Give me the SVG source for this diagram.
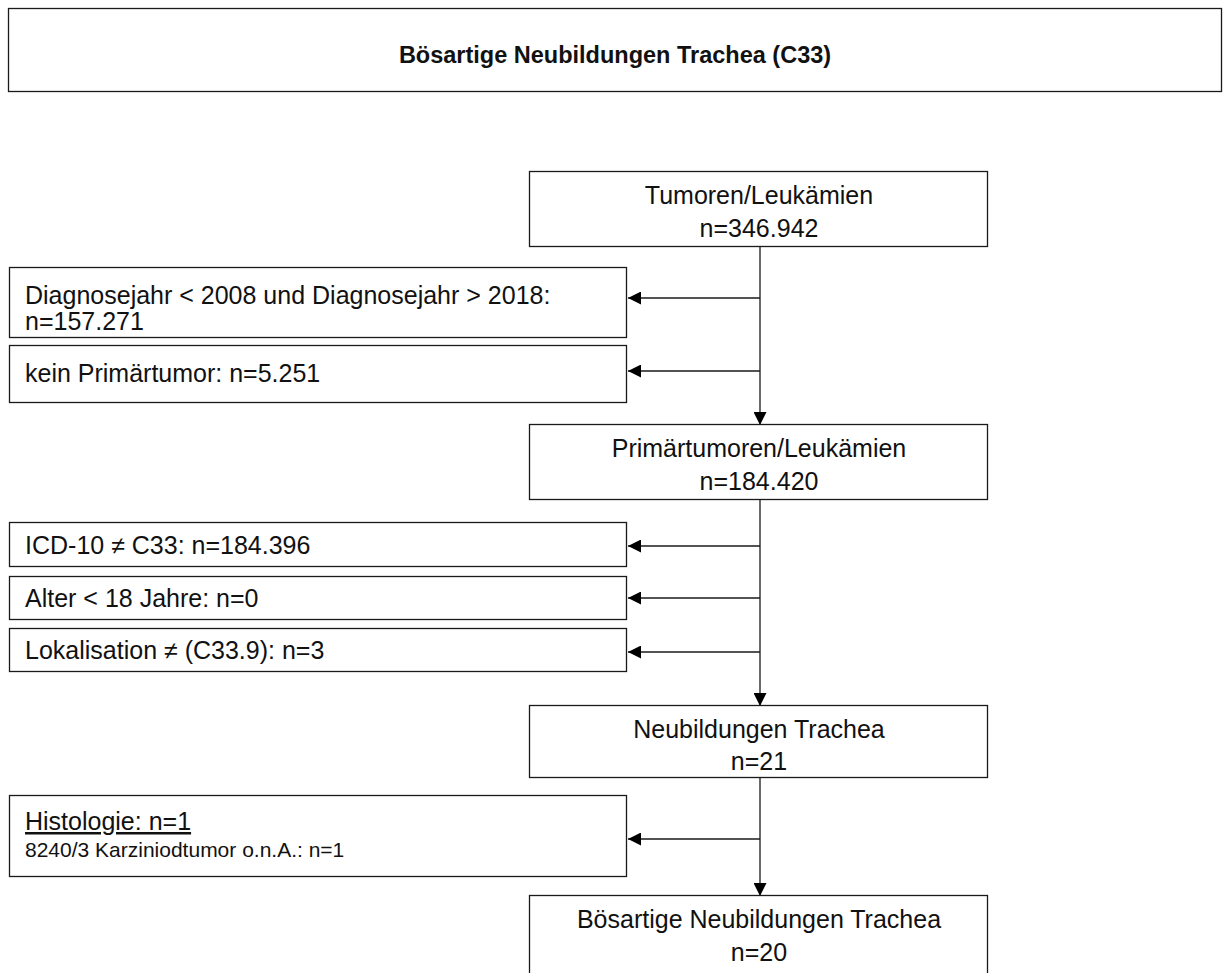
<svg xmlns="http://www.w3.org/2000/svg" width="1223" height="973" viewBox="0 0 1223 973">
<style>
.box{fill:#fff;stroke:#1a1a1a;stroke-width:1.3}
.t{font-family:"Liberation Sans",Arial,sans-serif;font-size:25px;fill:#111}
.c{text-anchor:middle}
.title{font-family:"Liberation Sans",Arial,sans-serif;font-size:23.5px;font-weight:bold;fill:#111;text-anchor:middle}
.s{font-family:"Liberation Sans",Arial,sans-serif;font-size:21px;fill:#111}
.ln{stroke:#1a1a1a;stroke-width:1.3;fill:none}
</style>
<defs>
<marker id="ah" viewBox="0 0 13 13" refX="13" refY="6.5" markerWidth="13" markerHeight="13" markerUnits="userSpaceOnUse" orient="auto">
<path d="M0,0 L13,6.5 L0,13 Z" fill="#000"/>
</marker>
</defs>
<rect width="1223" height="973" fill="#fff"/>
<g id="title">
<rect class="box" x="8.5" y="8.5" width="1213" height="83"/>
<text class="title" x="615" y="63">Bösartige Neubildungen Trachea (C33)</text>
</g>
<g id="connectors">
<path class="ln" d="M760,247 V425" marker-end="url(#ah)"/>
<path class="ln" d="M760,298 H628" marker-end="url(#ah)"/>
<path class="ln" d="M760,371 H628" marker-end="url(#ah)"/>
<path class="ln" d="M760,500 V706" marker-end="url(#ah)"/>
<path class="ln" d="M760,546 H628" marker-end="url(#ah)"/>
<path class="ln" d="M760,598 H628" marker-end="url(#ah)"/>
<path class="ln" d="M760,652 H628" marker-end="url(#ah)"/>
<path class="ln" d="M760,778 V896" marker-end="url(#ah)"/>
<path class="ln" d="M760,839 H628" marker-end="url(#ah)"/>
</g>
<g id="n1">
<rect class="box" x="529.5" y="171.5" width="458" height="75"/>
<text class="t c" x="759" y="204">Tumoren/Leukämien</text>
<text class="t c" x="759" y="237">n=346.942</text>
</g>
<g id="e1">
<rect class="box" x="9.5" y="267.5" width="617" height="70"/>
<text class="t" x="25" y="304">Diagnosejahr &lt; 2008 und Diagnosejahr &gt; 2018:</text>
<text class="t" x="25" y="330">n=157.271</text>
</g>
<g id="e2">
<rect class="box" x="9.5" y="345.5" width="617" height="57"/>
<text class="t" x="25" y="382">kein Primärtumor: n=5.251</text>
</g>
<g id="n2">
<rect class="box" x="529.5" y="424.5" width="458" height="75"/>
<text class="t c" x="759" y="457">Primärtumoren/Leukämien</text>
<text class="t c" x="759" y="490">n=184.420</text>
</g>
<g id="e3">
<rect class="box" x="9.5" y="522.5" width="617" height="44"/>
<text class="t" x="25" y="554">ICD-10 ≠ C33: n=184.396</text>
</g>
<g id="e4">
<rect class="box" x="9.5" y="576.5" width="617" height="43"/>
<text class="t" x="25" y="607">Alter &lt; 18 Jahre: n=0</text>
</g>
<g id="e5">
<rect class="box" x="9.5" y="628.5" width="617" height="43"/>
<text class="t" x="25" y="659">Lokalisation ≠ (C33.9): n=3</text>
</g>
<g id="n3">
<rect class="box" x="529.5" y="705.5" width="458" height="72"/>
<text class="t c" x="759" y="738">Neubildungen Trachea</text>
<text class="t c" x="759" y="770">n=21</text>
</g>
<g id="e6">
<rect class="box" x="9.5" y="795.5" width="617" height="81"/>
<text class="t" x="25" y="830" text-decoration="underline">Histologie: n=1</text>
<text class="s" x="25" y="857">8240/3 Karziniodtumor o.n.A.: n=1</text>
</g>
<g id="n4">
<rect class="box" x="529.5" y="895.5" width="458" height="90"/>
<text class="t c" x="759" y="928">Bösartige Neubildungen Trachea</text>
<text class="t c" x="759" y="961">n=20</text>
</g>
</svg>
